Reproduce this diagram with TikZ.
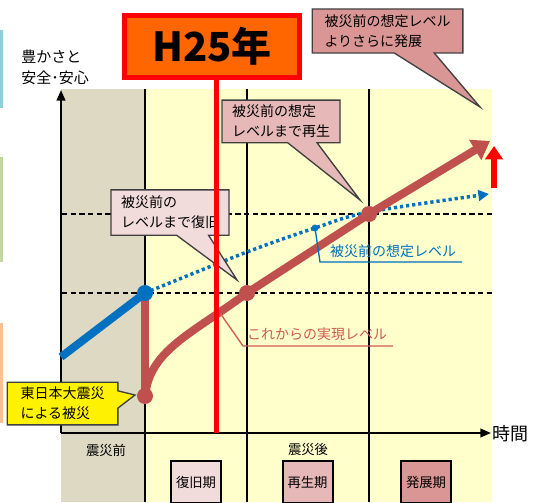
\documentclass[tikz,border=0pt]{standalone}
\usepackage{fontspec}
\setmainfont{Noto Sans CJK JP}
\usetikzlibrary{arrows.meta,shapes.callouts}
\definecolor{bgtan}{HTML}{DDD9C3}
\definecolor{bgyel}{HTML}{FFFFCC}
\definecolor{lvblue}{HTML}{0070C0}
\definecolor{lvred}{HTML}{C0504D}
\definecolor{pkA}{HTML}{F2DCDB}
\definecolor{pkB}{HTML}{E6B9B8}
\definecolor{pkC}{HTML}{D99694}
\definecolor{hbox}{HTML}{FF6600}
\definecolor{barblue}{HTML}{92CDDC}
\definecolor{bargreen}{HTML}{C3D69B}
\definecolor{barorange}{HTML}{FAC090}
\definecolor{lbred}{HTML}{CC5A55}
\begin{document}
\begin{tikzpicture}[x=0.75pt,y=-0.75pt,
  callbox/.style={rectangle callout, draw=black!75, line width=1pt, align=left,
    font=\fontsize{10.5}{15}\selectfont, inner sep=1pt},
  phasebox/.style={draw=black, line width=1.5pt, minimum width=37.5pt, minimum height=31.5pt,
    font=\fontsize{10}{12}\selectfont, inner sep=0pt},
  axisline/.style={line width=1.5pt, -{Triangle[length=8pt,width=6.5pt]}},
  thinv/.style={line width=0.8pt, black},
  levelline/.style={line width=1.5pt, dash pattern=on 4pt off 2.5pt},
  lbl/.style={font=\fontsize{10.5}{12}\selectfont, inner sep=0pt},
  smalllbl/.style={font=\fontsize{10}{12}\selectfont, inner sep=0pt}
]
\path[use as bounding box] (0,0) rectangle (534,502);
\clip (0,0) rectangle (534,502);

% left bars
\fill[barblue] (0,30) rectangle (3,108);
\fill[bargreen] (0,157) rectangle (3,262);
\fill[barorange] (0,323) rectangle (3,423);

% backgrounds
\fill[bgtan] (61,89) rectangle (145,502);
\fill[bgyel] (145,89) rectangle (492,502);

% vertical separators
\coordinate (v1t) at (145,89); \coordinate (v1b) at (145,502);
\coordinate (v2t) at (247,89); \coordinate (v2b) at (247,502);
\coordinate (v3t) at (369,89); \coordinate (v3b) at (369,502);
\draw[thinv] (v1t) -- (v1b);
\draw[thinv] (v2t) -- (v2b);
\draw[thinv] (v3t) -- (v3b);

% dashed level lines
\coordinate (d1a) at (62,214); \coordinate (d1b) at (493,214);
\coordinate (d2a) at (62,293); \coordinate (d2b) at (493,293);
\draw[levelline] (d1a) -- (d1b);
\draw[levelline] (d2a) -- (d2b);

% axes
\coordinate (O) at (61,433);
\coordinate (ytop) at (61,90);
\coordinate (xend) at (491,433);
\draw[axisline] (O) -- (ytop);
\draw[axisline] (O) -- (xend);

% key points
\coordinate (b0) at (61,357);
\coordinate (p0) at (145,293);
\coordinate (r0) at (145,396);
\coordinate (p1) at (247,293);
\coordinate (p2) at (369,214);
\coordinate (rend) at (490,141);
\coordinate (q1) at (247,252);
\coordinate (q2) at (315,228);
\coordinate (q3) at (369,212);
\coordinate (qend) at (489,194);

% blue dotted expected level
\draw[lvblue, line width=2.6pt, dash pattern=on 2.4pt off 2.2pt, -{Triangle[length=8pt,width=8pt]}]
  plot[smooth, tension=0.55] coordinates {(p0) (q1) (q2) (q3) (qend)};

% red realized level
\draw[lvred, line width=6pt] (p0) -- (r0);
\draw[lvred, line width=6pt, line join=round] (r0) .. controls (150,350) and (190,335) .. (p1);
\draw[lvred, line width=6pt, line join=round, -{Triangle[length=13pt,width=17pt]}] (p1) -- (p2) -- (rend);
\fill[lvred] (r0) circle[radius=6pt];
\fill[lvred] (p1) circle[radius=6pt];
\fill[lvred] (p2) circle[radius=6pt];

% blue thick pre-disaster line
\draw[lvblue, line width=6pt] (b0) -- (p0);
\fill[lvblue] (p0) circle[radius=6pt];
\fill[lvblue] (q2) circle[radius=2.6pt];

% red up arrow
\coordinate (ua0) at (494,188);
\coordinate (ua1) at (494,146);
\draw[red, line width=4.5pt, -{Triangle[length=10pt,width=13pt]}] (ua0) -- (ua1);

% label: expected level
\coordinate (lb1) at (320,262);
\coordinate (lb2) at (462,262);
\draw[lvblue, line width=1pt] (q2) -- (lb1) -- (lb2);
\node[lbl, text=lvblue] (lblblue) at (393,251) {被災前の想定レベル};

% label: realized level
\coordinate (lr0) at (220,313);
\coordinate (lr1) at (243,346);
\coordinate (lr2) at (393,346);
\draw[lbred, line width=1pt] (lr0) -- (lr1) -- (lr2);
\node[lbl, text=lbred] (lblred) at (317,334) {これからの実現レベル};

% callouts
\coordinate (t1) at (480,107);
\coordinate (t2) at (360,200);
\coordinate (t3) at (237,280);
\coordinate (t4) at (135,395);
\node[callbox, fill=pkC, minimum width=113pt, minimum height=33pt,
  callout absolute pointer={(t1)}, callout pointer width=30pt] (c1) at (387.5,31)
  {被災前の想定レベル\\よりさらに発展};
\node[callbox, fill=pkB, minimum width=88.5pt, minimum height=32pt,
  callout absolute pointer={(t2)}, callout pointer width=22pt] (c2) at (281,121.5)
  {被災前の想定\\レベルまで再生};
\node[callbox, fill=pkA, minimum width=88.5pt, minimum height=34pt,
  callout absolute pointer={(t3)}, callout pointer width=24pt] (c3) at (170,212.5)
  {被災前の\\レベルまで復旧};
\node[callbox, fill=yellow, minimum width=83pt, minimum height=32pt,
  callout absolute pointer={(t4)}, callout pointer width=13pt] (c4) at (62.5,403.5)
  {東日本大震災\\による被災};

% H25 marker
\coordinate (h0) at (216,80);
\coordinate (h1) at (216,433);
\draw[red, line width=3.75pt] (h0) -- (h1);
\node[draw=red, line width=3.75pt, fill=hbox, minimum width=131pt, minimum height=46.5pt,
  inner sep=0pt, font=\fontsize{30}{32}\bfseries\selectfont] (h25) at (212,46.5) {H25年};

% axis labels
\node[anchor=west, align=left, inner sep=0pt, font=\fontsize{11.25}{15.75}\selectfont] (ylab) at (21,67.5)
  {豊かさと\\安全･安心};
\node[anchor=west, inner sep=0pt, font=\fontsize{13.5}{15}\selectfont] (xlab) at (492,434) {時間};

% phases
\node[smalllbl] (pre) at (106,450) {震災前};
\node[smalllbl] (post) at (308,449) {震災後};
\node[phasebox, fill=pkA] (ph1) at (196,482) {復旧期};
\node[phasebox, fill=pkB] (ph2) at (307.5,482) {再生期};
\node[phasebox, fill=pkC] (ph3) at (426,482) {発展期};
\end{tikzpicture}
\end{document}
